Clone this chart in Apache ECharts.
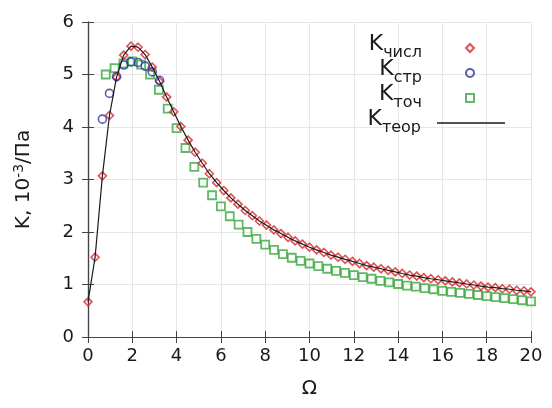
<!DOCTYPE html>
<html>
<head>
<meta charset="utf-8">
<script src="https://cdn.jsdelivr.net/npm/echarts@6/dist/echarts.min.js"></script>
<style>
  html, body { margin: 0; padding: 0; background: #fff; }
  #chart { width: 552px; height: 408px; }
</style>
</head>
<body>
<div id="chart"></div>
<script>
// Ω nodes and K values (10^-3 / Па)
const omegaNum = [0.00, 0.32, 0.65, 0.97, 1.29, 1.61, 1.94, 2.26, 2.58, 2.90,
  3.23, 3.55, 3.87, 4.19, 4.52, 4.84, 5.16, 5.48, 5.81, 6.13,
  6.45, 6.77, 7.10, 7.42, 7.74, 8.06, 8.39, 8.71, 9.03, 9.35,
  9.68, 10.00, 10.32, 10.65, 10.97, 11.29, 11.61, 11.94, 12.26, 12.58,
  12.90, 13.23, 13.55, 13.87, 14.19, 14.52, 14.84, 15.16, 15.48, 15.81,
  16.13, 16.45, 16.77, 17.10, 17.42, 17.74, 18.06, 18.39, 18.71, 19.03,
  19.35, 19.68, 20.00];
const kNum = [0.67, 1.52, 3.07, 4.22, 4.95, 5.37, 5.54, 5.52, 5.38, 5.14,
  4.87, 4.57, 4.29, 4.01, 3.75, 3.52, 3.31, 3.11, 2.94, 2.79,
  2.65, 2.53, 2.41, 2.31, 2.21, 2.13, 2.04, 1.97, 1.90, 1.83,
  1.77, 1.71, 1.66, 1.61, 1.56, 1.52, 1.48, 1.44, 1.40, 1.36,
  1.33, 1.30, 1.27, 1.24, 1.21, 1.18, 1.16, 1.13, 1.11, 1.09,
  1.07, 1.05, 1.03, 1.01, 0.99, 0.97, 0.95, 0.94, 0.92, 0.91,
  0.89, 0.88, 0.86];

const omegaStr = [0.65, 0.97, 1.29, 1.61, 1.94, 2.26, 2.58, 2.90, 3.23];
const kStr = [4.15, 4.64, 4.96, 5.18, 5.24, 5.23, 5.16, 5.05, 4.89];

const omegaToch = [0.8, 1.2, 1.6, 2.0, 2.4, 2.8, 3.2, 3.6, 4.0, 4.4,
  4.8, 5.2, 5.6, 6.0, 6.4, 6.8, 7.2, 7.6, 8.0, 8.4,
  8.8, 9.2, 9.6, 10.0, 10.4, 10.8, 11.2, 11.6, 12.0, 12.4,
  12.8, 13.2, 13.6, 14.0, 14.4, 14.8, 15.2, 15.6, 16.0, 16.4,
  16.8, 17.2, 17.6, 18.0, 18.4, 18.8, 19.2, 19.6, 20.0];
const kToch = [5.00, 5.12, 5.21, 5.25, 5.19, 5.00, 4.71, 4.35, 3.98, 3.60,
  3.24, 2.94, 2.70, 2.49, 2.30, 2.14, 2.00, 1.87, 1.76, 1.66,
  1.58, 1.51, 1.45, 1.40, 1.35, 1.30, 1.26, 1.22, 1.18, 1.14,
  1.11, 1.07, 1.04, 1.01, 0.98, 0.96, 0.93, 0.91, 0.88, 0.86,
  0.84, 0.82, 0.80, 0.78, 0.76, 0.74, 0.72, 0.70, 0.68];

// the theoretical curve passes through the numeric nodes
const omegaTeor = omegaNum;
const kTeor = kNum;

const xTicks = [0, 2, 4, 6, 8, 10, 12, 14, 16, 18, 20];
const yTicks = [0, 1, 2, 3, 4, 5, 6];

const names = ['Kчисл', 'Kстр', 'Kточ', 'Kтеор'];
const subs = { 'Kчисл': 'числ', 'Kстр': 'стр', 'Kточ': 'точ', 'Kтеор': 'теор' };

const FONT = 'DejaVu Sans';
const RED = '#d8262a', BLUE = '#2a379c', GREEN = '#3aa83e', INK = '#1a1a1a';

const pairs = (xs, ys) => xs.map((x, i) => [x, ys[i]]);

// one legend per entry, right-anchored so the keys line up in a column
const legendFor = (name, top, opts) => ({
  data: [name],
  orient: 'vertical',
  align: 'right',
  right: opts.right,
  top: top,
  padding: 0,
  itemWidth: opts.w,
  itemHeight: opts.h,
  icon: opts.icon,
  selectedMode: false,
  formatter: n => '{k|K}{s|' + subs[n] + '}',
  textStyle: {
    fontFamily: FONT,
    color: INK,
    rich: {
      k: { fontFamily: FONT, fontSize: 22, color: INK, padding: [0, 0, 8, 0] },
      s: { fontFamily: FONT, fontSize: 16, color: INK, padding: [9, opts.gap, 0, 0] }
    }
  }
});

const axisTickStyle = { show: true, inside: true, length: 6, lineStyle: { color: '#444', width: 1 } };
const axisLineStyle = { show: true, lineStyle: { color: '#444', width: 1.2 } };

const option = {
  animation: false,
  backgroundColor: '#fff',
  grid: { left: 88, right: 21, top: 22, bottom: 71 },
  legend: [
    legendFor(names[0], 33, { right: 77, w: 8, h: 8, gap: 39 }),
    legendFor(names[1], 58, { right: 77, w: 8, h: 8, gap: 39 }),
    legendFor(names[2], 83, { right: 77, w: 8, h: 8, gap: 39 }),
    legendFor(names[3], 108, { right: 47, w: 68, h: 1.4, gap: 11, icon: 'rect' })
  ],
  xAxis: [
    {
      type: 'value', min: xTicks[0], max: xTicks[xTicks.length - 1], interval: 2,
      name: 'Ω', nameLocation: 'middle', nameGap: 42,
      nameTextStyle: { fontFamily: FONT, fontSize: 20, color: INK },
      axisLine: axisLineStyle, axisTick: axisTickStyle,
      axisLabel: { fontFamily: FONT, fontSize: 18, color: INK, margin: 10 },
      splitLine: { show: true, lineStyle: { color: '#e6e6e6', width: 1 } }
    },
    {
      type: 'value', position: 'top', min: 0, max: 20, interval: 2,
      axisLine: axisLineStyle, axisTick: axisTickStyle,
      axisLabel: { show: false }, splitLine: { show: false }
    }
  ],
  yAxis: [
    {
      type: 'value', min: yTicks[0], max: yTicks[yTicks.length - 1], interval: 1,
      name: '{a|K, 10}{b|-3}{a|/Па}', nameLocation: 'middle', nameGap: 52, nameRotate: 90,
      nameTextStyle: {
        fontFamily: FONT, fontSize: 20, color: INK,
        rich: {
          a: { fontFamily: FONT, fontSize: 20, color: INK },
          b: { fontFamily: FONT, fontSize: 14, color: INK, padding: [0, 0, 10, 0] }
        }
      },
      axisLine: axisLineStyle, axisTick: axisTickStyle,
      axisLabel: { fontFamily: FONT, fontSize: 18, color: INK, margin: 14 },
      splitLine: { show: true, lineStyle: { color: '#e6e6e6', width: 1 } }
    },
    {
      type: 'value', position: 'right', min: 0, max: 6, interval: 1,
      axisLine: axisLineStyle, axisTick: axisTickStyle,
      axisLabel: { show: false }, splitLine: { show: false }
    }
  ],
  series: [
    {
      name: names[2], type: 'scatter', data: pairs(omegaToch, kToch),
      symbol: 'rect', symbolSize: 8,
      itemStyle: { color: 'rgba(255,255,255,0)', borderColor: GREEN, borderWidth: 1.8 },
      z: 2
    },
    {
      name: names[0], type: 'scatter', data: pairs(omegaNum, kNum),
      symbol: 'diamond', symbolSize: 8,
      itemStyle: { color: 'rgba(255,255,255,0)', borderColor: RED, borderWidth: 1.6 },
      z: 3
    },
    {
      name: names[1], type: 'scatter', data: pairs(omegaStr, kStr),
      symbol: 'circle', symbolSize: 8,
      itemStyle: { color: 'rgba(255,255,255,0)', borderColor: BLUE, borderWidth: 1.6 },
      z: 4
    },
    {
      name: names[3], type: 'line', data: pairs(omegaTeor, kTeor),
      showSymbol: false, symbol: 'none', smooth: false,
      lineStyle: { color: INK, width: 1.2 },
      itemStyle: { color: INK },
      z: 5
    }
  ]
};

const chart = echarts.init(document.getElementById('chart'), null, { renderer: 'canvas' });
chart.setOption(option);
</script>
</body>
</html>
